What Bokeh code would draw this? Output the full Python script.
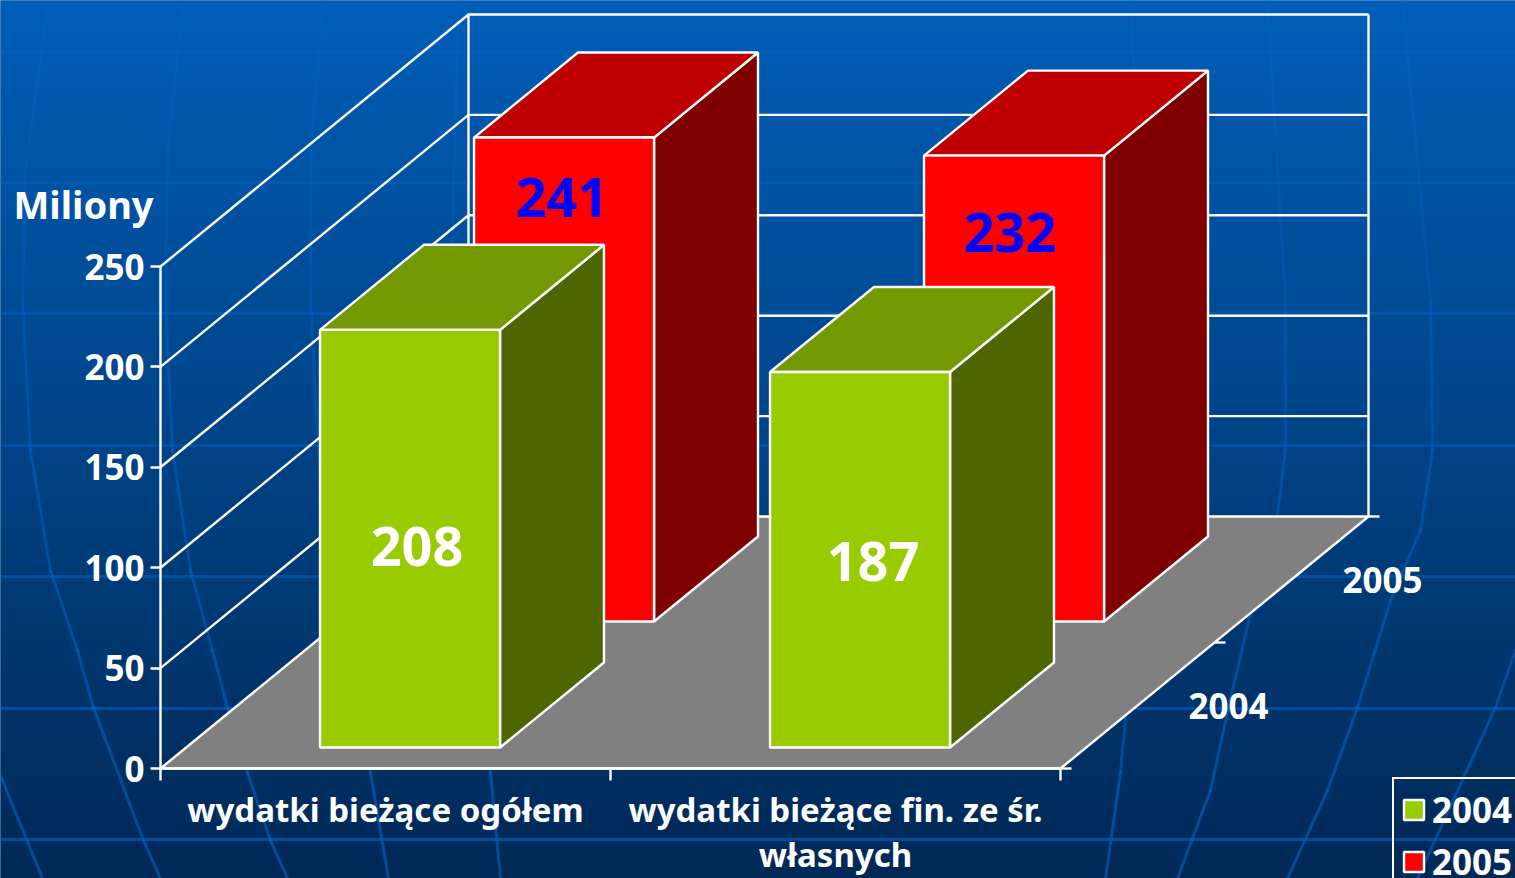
import numpy as np
from bokeh.plotting import figure
from bokeh.embed import file_html
from bokeh.resources import INLINE
from bokeh.models import Range1d, LinearAxis, FixedTicker, Legend, LegendItem
from bokeh.core.properties import value

# ---------- data ----------
categories = ["wydatki bieżące ogółem", "wydatki bieżące fin. ze śr.\nwłasnych"]
series_names = ["2004", "2005"]
values_2004 = [208, 187]
values_2005 = [241, 232]
y_ticks = [0, 50, 100, 150, 200, 250]
y_title = "Miliony"

# ---------- page geometry of the 3-D box (reference pixels) ----------
PX_X0, PX_Y0 = 160.0, 768.0     # origin of the front-bottom-left corner
PX_PER_CAT = 450.0
PX_PER_UNIT = 2.008
DEPTH_DX, DEPTH_DY = 308.0, 252.0  # screen shift of full depth
W, H = 1515, 878

def px_x(px):
    return (px - PX_X0) / PX_PER_CAT

def px_y(py):
    return (PX_Y0 - py) / PX_PER_UNIT

DX = DEPTH_DX / PX_PER_CAT
DY = DEPTH_DY / PX_PER_UNIT

def proj(cat, depth, val):
    return cat + depth * DX, val + depth * DY

p = figure(width=W, height=H, output_backend="svg", toolbar_location=None,
           x_range=Range1d(px_x(0), px_x(W)),
           y_range=Range1d(px_y(H), px_y(0)),
           min_border=0, x_axis_type=None, y_axis_type=None,
           background_fill_color="#00447F", border_fill_color="#00447F",
           outline_line_color=None)
p.grid.visible = False

# ---------- slide background: vertical gradient and globe lines ----------
top_rgb, bottom_rgb = (0x00, 0x5E, 0xB8), (0x00, 0x28, 0x55)
img = np.zeros((H, 1), dtype=np.uint32)
view = img.view(np.uint8).reshape(H, 1, 4)
for c in range(3):
    view[:, :, c] = np.round(bottom_rgb[c] + (top_rgb[c] - bottom_rgb[c]) * np.linspace(0, 1, H)[:, None]).astype(np.uint8)
view[:, :, 3] = 255
p.image_rgba(image=[img], x=px_x(-4), y=px_y(H + 4), dw=(W + 8) / PX_PER_CAT, dh=(H + 8) / PX_PER_UNIT)

bands = [51, 182, 313, 445, 576, 708, 839]
meridians = [
    [(48, 0), (25, 170), (22, 300), (30, 450), (50, 570), (77, 650), (93, 707), (143, 840), (160, 878)],
    [(183, 0), (167, 150), (165, 300), (172, 450), (190, 570), (212, 650), (227, 707), (247, 772), (270, 840), (287, 878)],
    [(323, 0), (310, 150), (310, 300), (318, 450), (335, 600), (370, 772), (388, 878)],
    [(0, 775), (42, 878)],
    [(458, 0), (450, 300), (455, 520), (490, 772), (500, 878)],
    [(1130, 0), (1145, 300), (1145, 500), (1120, 772), (1105, 878)],
    [(1267, 0), (1285, 300), (1285, 450), (1270, 570), (1253, 600), (1228, 707), (1210, 790), (1177, 878)],
    [(1402, 0), (1430, 300), (1432, 450), (1420, 530), (1390, 600), (1357, 707), (1327, 790), (1287, 878)],
    [(1515, 650), (1495, 707), (1417, 878)],
]
BG_LINE = "#0066CC"
for b in bands:
    p.line([px_x(0), px_x(1515)], [px_y(b)] * 2, line_color=BG_LINE, line_alpha=0.3 + 0.3 * b / H, line_width=3)
for m in meridians:
    for (a0, b0), (a1, b1) in zip(m[:-1], m[1:]):
        p.line([px_x(a0), px_x(a1)], [px_y(b0), px_y(b1)], line_color=BG_LINE,
               line_alpha=0.25 + 0.35 * (b0 + b1) / 2 / H, line_width=3, line_cap="round")

# ---------- walls and floor ----------
WHITE = "#FFFFFF"
LW = 2.4
for t in y_ticks[1:]:
    xa, ya = proj(0, 0, t)
    xb, yb = proj(0, 1, t)
    xc, yc = proj(2, 1, t)
    p.line([xa, xb, xc], [ya, yb, yc], line_color=WHITE, line_width=LW)
xb0, yb0 = proj(0, 1, 0)
xb1, yb1 = proj(0, 1, y_ticks[-1])
xc0, yc0 = proj(2, 1, 0)
xc1, yc1 = proj(2, 1, y_ticks[-1])
p.line([xb0, xb1], [yb0, yb1], line_color=WHITE, line_width=LW)
p.line([xc0, xc1], [yc0, yc1], line_color=WHITE, line_width=LW)

floor = [proj(0, 0, 0), proj(2, 0, 0), proj(2, 1, 0), proj(0, 1, 0)]
p.patch([a for a, _ in floor], [b for _, b in floor], fill_color="#808080",
        line_color=WHITE, line_width=LW)

# ---------- bars ----------
BAR_L, BAR_W = 0.2975, 0.4
D_NEAR, D_LEN = 1 / 12, 0.3375

def bar(cat, row, val, front, top, side):
    d0 = row * 0.5 + D_NEAR
    d1 = d0 + D_LEN
    xl = cat + BAR_L
    xr = xl + BAR_W
    f = [proj(xl, d0, 0), proj(xr, d0, 0), proj(xr, d0, val), proj(xl, d0, val)]
    t = [proj(xl, d0, val), proj(xr, d0, val), proj(xr, d1, val), proj(xl, d1, val)]
    s = [proj(xr, d0, 0), proj(xr, d1, 0), proj(xr, d1, val), proj(xr, d0, val)]
    p.patch([a for a, _ in s], [b for _, b in s], fill_color=side, line_color=WHITE, line_width=LW)
    p.patch([a for a, _ in t], [b for _, b in t], fill_color=top, line_color=WHITE, line_width=LW)
    return p.patch([a for a, _ in f], [b for _, b in f], fill_color=front, line_color=WHITE, line_width=LW)

r_2005 = None
for i, v in enumerate(values_2005):
    r_2005 = bar(i, 1, v, "#FF0000", "#BF0000", "#800000")
r_2004 = None
for i, v in enumerate(values_2004):
    r_2004 = bar(i, 0, v, "#99CC00", "#739900", "#4D6600")

# ---------- axes (real Bokeh axes fixed on the box edges) ----------
FONT = "Noto Sans"
yax = LinearAxis(fixed_location=0, ticker=FixedTicker(ticks=y_ticks), bounds=(0, 250),
                 axis_line_color=WHITE, axis_line_width=LW,
                 major_tick_line_color=WHITE, major_tick_line_width=LW,
                 major_tick_out=10, major_tick_in=0, minor_tick_line_color=None,
                 major_label_text_color=WHITE, major_label_text_font=FONT,
                 major_label_text_font_style="bold", major_label_text_font_size="35px",
                 major_label_standoff=6)
p.add_layout(yax, "left")

xax = LinearAxis(fixed_location=0,
                 ticker=FixedTicker(ticks=[0.5, 1.5], minor_ticks=[0, 1, 2]),
                 bounds=(0, 2),
                 major_label_overrides={0.5: categories[0], 1.5: categories[1]},
                 axis_line_color=WHITE, axis_line_width=LW,
                 major_tick_line_color=None,
                 minor_tick_line_color=WHITE, minor_tick_line_width=LW,
                 minor_tick_out=12, minor_tick_in=0,
                 major_label_text_color=WHITE, major_label_text_font=FONT,
                 major_label_text_font_style="bold", major_label_text_font_size="33px",
                 major_label_text_line_height=1.0,
                 major_label_standoff=6)
p.add_layout(xax, "below")

# depth axis: ticks on the right edge of the floor and the series names
for d in [0, 0.5, 1]:
    a, b = proj(2, d, 0)
    p.line([a, a + 11 / PX_PER_CAT], [b, b], line_color=WHITE, line_width=LW)
for k, name in enumerate(series_names):
    a, b = proj(2, 0.25 + 0.5 * k, 0)
    p.text([a], [b], text=[name], x_offset=91, y_offset=0,
           text_color=WHITE, text_font=value(FONT), text_font_style="bold",
           text_font_size="35px", text_align="center", text_baseline="middle")

# ---------- axis title ----------
p.text([px_x(13)], [px_y(203)], text=[y_title], text_color=WHITE, text_font=value(FONT),
       text_font_style="bold", text_font_size="38px", text_align="left", text_baseline="middle")

# ---------- value labels (placed as in the reference: offset from each bar's front top) ----------
offs_2005 = [(-2, 60), (-4, 77)]
offs_2004 = [(7, 217), (13, 189)]
for row, vals, offs, col in [(1, values_2005, offs_2005, "#0000FF"), (0, values_2004, offs_2004, WHITE)]:
    for i, v in enumerate(vals):
        a, b = proj(i + BAR_L + BAR_W / 2, row * 0.5 + D_NEAR, v)
        p.text([a], [b], text=[str(v)], x_offset=offs[i][0], y_offset=offs[i][1],
               text_color=col, text_font=value(FONT), text_font_style="bold",
               text_font_size="54px", text_align="center", text_baseline="middle")

# ---------- legend ----------
legend = Legend(items=[LegendItem(label=series_names[0], renderers=[r_2004]),
                       LegendItem(label=series_names[1], renderers=[r_2005])],
                location=(1392, -16), orientation="vertical",
                background_fill_alpha=0,
                border_line_color=WHITE, border_line_width=2, border_line_alpha=1,
                padding=7, margin=0, spacing=5,
                glyph_width=25, glyph_height=25, label_width=80, label_height=38,
                label_standoff=6, label_text_color=WHITE, label_text_font=FONT,
                label_text_font_style="bold", label_text_font_size="35px",
                label_text_baseline="middle")
p.add_layout(legend, "center")

open("out.html", "w").write(file_html(p, INLINE))
